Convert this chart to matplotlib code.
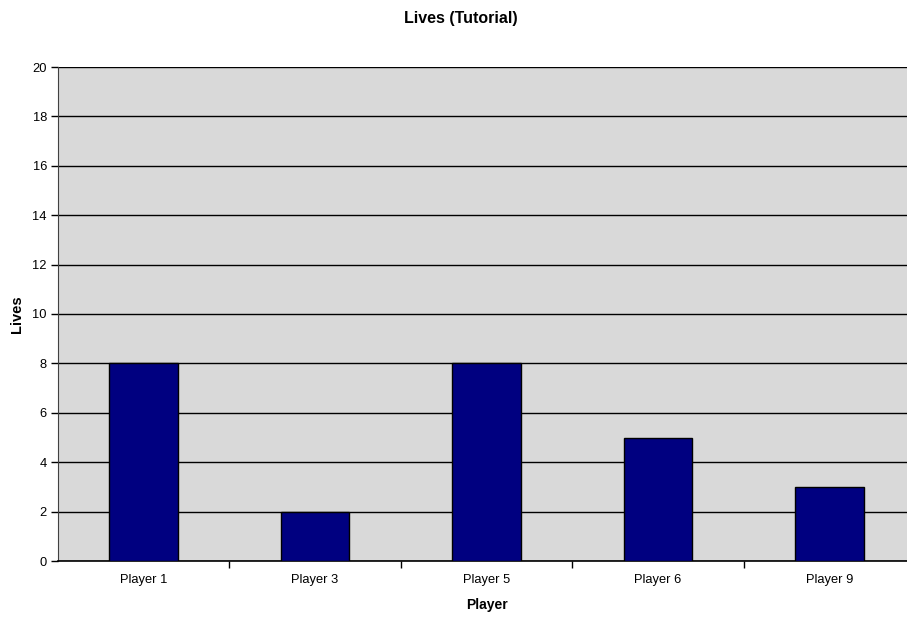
import matplotlib
matplotlib.use("Agg")
import matplotlib.pyplot as plt
import numpy as np

players = ["Player 1", "Player 3", "Player 5", "Player 6", "Player 9"]
lives = [8, 2, 8, 5, 3]
y_ticks = list(range(0, 21, 2))

plt.rcParams["font.family"] = ["Liberation Sans", "DejaVu Sans"]

fig = plt.figure(figsize=(9.07, 6.18), dpi=100)
ax = fig.add_axes([58 / 907, 57 / 618, 857 / 907, 494 / 618])
ax.set_facecolor("#d9d9d9")

x = np.arange(len(players))
ax.bar(x, lives, width=0.4, color="#000080", edgecolor="black", linewidth=1, zorder=3)

ax.set_xlim(-0.5, len(players) - 0.5)
ax.set_ylim(0, 20)
ax.set_yticks(y_ticks)
ax.yaxis.grid(True, color="black", linewidth=1)
ax.set_axisbelow(True)

# Category labels centred, tick marks on the category boundaries
ax.set_xticks(x)
ax.set_xticklabels(players, fontsize=9.3)
ax.tick_params(axis="x", which="major", length=0, pad=9)
ax.set_xticks(np.arange(0.5, len(players) - 0.5, 1), minor=True)
ax.tick_params(axis="x", which="minor", length=5, width=1, color="black")
ax.tick_params(axis="y", length=5, width=1, labelsize=9.3, pad=3)

for s in ["top", "right"]:
    ax.spines[s].set_visible(False)
ax.spines["left"].set_color("#404040")
ax.spines["bottom"].set_color("black")
ax.spines["bottom"].set_linewidth(1.2)

ax.set_xlabel("Player", fontsize=10, fontweight="bold", labelpad=9)
ax.set_ylabel("Lives", fontsize=10.5, fontweight="bold", labelpad=6)
fig.text(461 / 907, 1 - 19 / 618, "Lives (Tutorial)", ha="center", va="center",
         fontsize=11.5, fontweight="bold")

fig.savefig("out.png", dpi=100)
